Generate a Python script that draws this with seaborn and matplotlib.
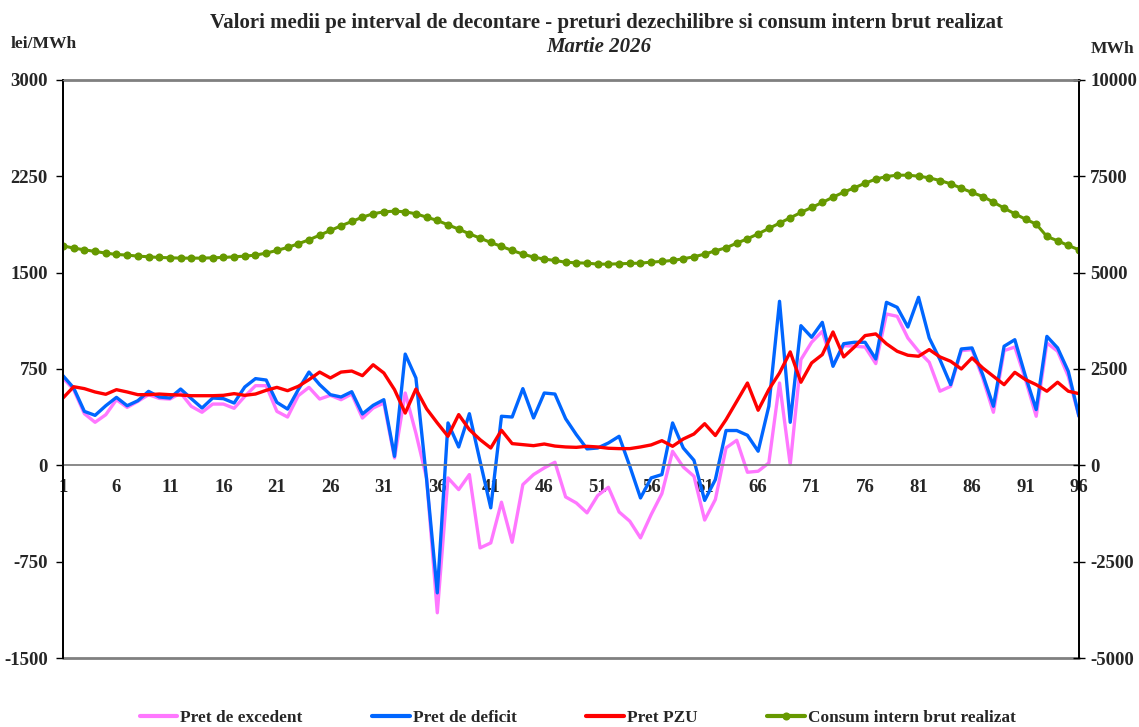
import numpy as np
import pandas as pd
import seaborn as sns
import matplotlib
matplotlib.use("Agg")
import matplotlib.pyplot as plt
from matplotlib.lines import Line2D

# Data: settlement intervals 1..96
intervals = list(range(1, 97))

pret_excedent = [
    680, 589, 402, 335, 394, 511, 451, 498, 550, 521, 516, 563, 459, 413, 477, 477,
    444, 537, 620, 620, 420, 376, 542, 607, 516, 545, 511, 555, 368, 446, 485, 57,
    563, 250, -100, -1148, -98, -189, -72, -643, -604, -287, -599, -150, -72, -20, 24, -246,
    -293, -370, -235, -171, -363, -435, -565, -383, -220, 109, -13, -85, -426, -266, 136, 195,
    -54, -46, 19, 641, 6, 823, 958, 1043, 780, 932, 927, 921, 792, 1178, 1160, 991,
    888, 802, 577, 615, 893, 901, 680, 413, 893, 921, 667, 382, 953, 888, 693, 382,
]

pret_deficit = [
    698, 602, 420, 389, 464, 529, 464, 503, 576, 532, 524, 594, 519, 446, 524, 519,
    485, 610, 675, 664, 490, 438, 589, 726, 628, 550, 532, 573, 400, 467, 511, 70,
    866, 680, -110, -993, 330, 143, 402, 32, -331, 382, 376, 597, 369, 563, 555, 363,
    239, 128, 135, 174, 226, -7, -254, -98, -72, 330, 135, 39, -273, -111, 271, 271,
    234, 110, 460, 1277, 335, 1087, 997, 1113, 771, 947, 958, 958, 828, 1269, 1230, 1077,
    1308, 991, 823, 628, 906, 914, 706, 460, 927, 978, 693, 434, 1004, 914, 732, 382,
]

pret_pzu = [
    524, 612, 597, 571, 553, 589, 571, 550, 550, 555, 550, 547, 542, 542, 542, 545,
    558, 545, 555, 584, 607, 581, 615, 667, 726, 680, 726, 734, 698, 783, 719, 589,
    407, 594, 440, 330, 226, 395, 278, 200, 135, 273, 169, 161, 153, 166, 150, 143,
    140, 148, 143, 133, 130, 130, 143, 159, 192, 148, 205, 244, 324, 232, 356, 498,
    641, 429, 590, 719, 883, 647, 797, 862, 1038, 844, 921, 1010, 1023, 946, 888, 857,
    849, 901, 844, 810, 750, 836, 758, 693, 628, 724, 667, 628, 577, 647, 577, 558,
]

consum = [
    5697, 5636, 5593, 5550, 5507, 5472, 5455, 5429, 5412, 5394, 5386, 5377, 5377, 5377, 5386, 5394,
    5412, 5429, 5455, 5507, 5576, 5654, 5749, 5852, 5973, 6094, 6216, 6328, 6440, 6527, 6579, 6596,
    6579, 6527, 6440, 6354, 6241, 6129, 6008, 5896, 5783, 5680, 5576, 5481, 5403, 5351, 5317, 5270,
    5255, 5247, 5221, 5221, 5230, 5239, 5247, 5273, 5291, 5317, 5360, 5412, 5481, 5567, 5645, 5766,
    5878, 6008, 6146, 6285, 6423, 6561, 6691, 6821, 6959, 7089, 7201, 7322, 7426, 7495, 7529, 7529,
    7503, 7460, 7391, 7305, 7192, 7080, 6976, 6829, 6674, 6527, 6388, 6259, 5939, 5827, 5705, 5593,
]

left_ticks = [-1500, -750, 0, 750, 1500, 2250, 3000]
right_ticks = [-5000, -2500, 0, 2500, 5000, 7500, 10000]
x_labels = list(range(1, 97, 5))

df = pd.DataFrame({
    "interval": intervals,
    "excedent": pret_excedent,
    "deficit": pret_deficit,
    "pzu": pret_pzu,
    "consum": consum,
})

C_PINK = "#FF77FF"
C_BLUE = "#0066FF"
C_RED = "#FF0000"
C_GREEN = "#669900"

sns.set_style("white")
plt.rcParams["font.family"] = ["Liberation Serif", "DejaVu Serif"]
plt.rcParams["font.weight"] = "bold"

fig = plt.figure(figsize=(11.39, 7.27), dpi=100)
ax = fig.add_axes([0.0553, 0.0949, 0.8920, 0.7951])
ax2 = ax.twinx()

# price lines (left axis)
sns.lineplot(data=df, x="interval", y="excedent", ax=ax, color=C_PINK, linewidth=2.4, legend=False)
sns.lineplot(data=df, x="interval", y="deficit", ax=ax, color=C_BLUE, linewidth=2.4, legend=False)
sns.lineplot(data=df, x="interval", y="pzu", ax=ax, color=C_RED, linewidth=2.4, legend=False)

# consumption (right axis)
sns.lineplot(data=df, x="interval", y="consum", ax=ax2, color=C_GREEN, linewidth=2.2,
             marker="o", markersize=5.8, markeredgewidth=0, legend=False)

ax.set_xlim(1, 96)
ax.set_ylim(-1500, 3000)
ax2.set_ylim(-5000, 10000)
ax.set_xlabel("")
ax.set_ylabel("")
ax2.set_ylabel("")

TICK_FS = 13.5
ax.set_yticks(left_ticks)
ax.set_yticklabels([str(v) for v in left_ticks], fontsize=TICK_FS, fontweight="bold")
ax2.set_yticks(right_ticks)
ax2.set_yticklabels([str(v) for v in right_ticks], fontsize=TICK_FS, fontweight="bold")

ax.set_xticks(intervals, minor=True)
ax.set_xticks(x_labels)
ax.set_xticklabels([str(v) for v in x_labels], fontsize=TICK_FS, fontweight="bold")
ax.tick_params(axis="x", which="both", direction="out", length=5, width=1, color="#808080",
               pad=5, labelsize=TICK_FS)
ax.tick_params(axis="y", direction="out", length=5, width=1, color="black", pad=6, left=True)
ax2.tick_params(axis="y", direction="inout", length=8, width=1, color="black", pad=4, right=True)
for lbl in ax.get_xticklabels():
    lbl.set_fontweight("bold")
    lbl.set_zorder(5)

# spines: zero line as x axis, gray frame top/bottom, black sides
for a in (ax, ax2):
    a.spines["top"].set_color("#808080")
    a.spines["left"].set_color("black")
    a.spines["right"].set_color("black")
    a.spines["left"].set_linewidth(1.3)
    a.spines["right"].set_linewidth(1.3)
ax.spines["bottom"].set_position(("data", 0))
ax.spines["bottom"].set_color("#808080")
ax.spines["bottom"].set_linewidth(1.3)
ax2.spines["bottom"].set_visible(False)
ax.axhline(-1500, color="#808080", linewidth=2, clip_on=False, zorder=0)
ax.spines["top"].set_linewidth(2)

# titles and unit labels
fig.text(0.5325, 0.968, "Valori medii pe interval de decontare - preturi dezechilibre si consum intern brut realizat",
         ha="center", va="center", fontsize=15, fontweight="bold")
fig.text(0.526, 0.935, "Martie 2026", ha="center", va="center", fontsize=15,
         fontweight="bold", fontstyle="italic")
fig.text(0.009, 0.939, "lei/MWh", ha="left", va="center", fontsize=12.6, fontweight="bold")
fig.text(0.996, 0.933, "MWh", ha="right", va="center", fontsize=12.6, fontweight="bold")

# legend at bottom
handles = [
    Line2D([], [], color=C_PINK, linewidth=3),
    Line2D([], [], color=C_BLUE, linewidth=3),
    Line2D([], [], color=C_RED, linewidth=3),
    Line2D([], [], color=C_GREEN, linewidth=3, marker="o", markersize=5.8, markeredgewidth=0),
]
labels = ["Pret de excedent", "Pret de deficit", "Pret PZU", "Consum intern brut realizat"]
fig.legend(handles, labels, loc="center", bbox_to_anchor=(0.507, 0.012), ncol=4, frameon=False,
           handlelength=2.2, handletextpad=0.15, columnspacing=4.05,
           prop={"size": 12.4, "weight": "bold"})

plt.savefig("out.png", dpi=100)
plt.close()
